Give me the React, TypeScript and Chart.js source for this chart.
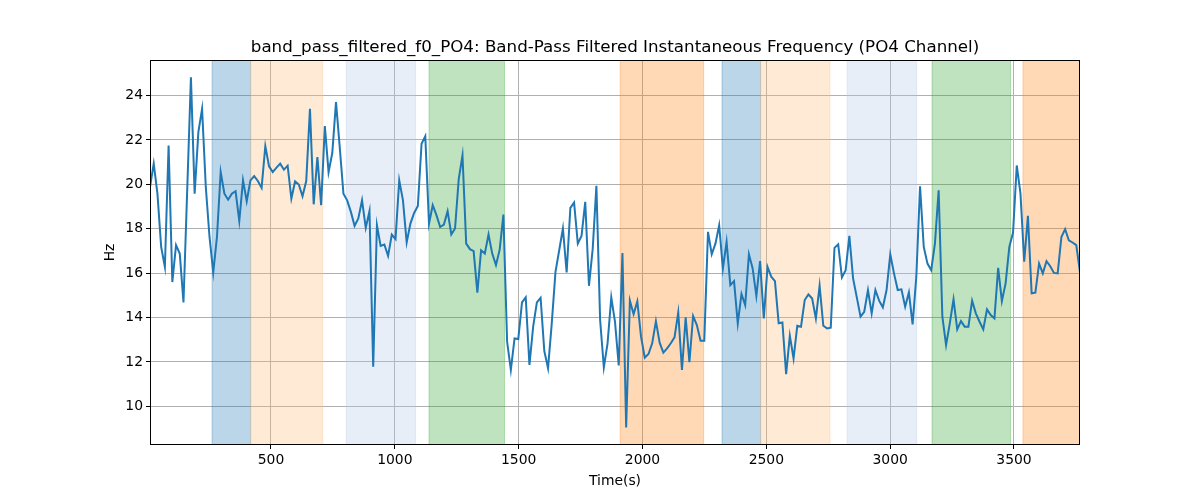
import React, { useEffect, useRef } from "react";
import { Chart, registerables } from "chart.js";

Chart.register(...registerables);

const TITLE = "band_pass_filtered_f0_PO4: Band-Pass Filtered Instantaneous Frequency (PO4 Channel)";
const X_LABEL = "Time(s)";
const Y_LABEL = "Hz";

// sampling grid of the time axis (seconds)
const T_START = 11.5;
const T_STEP = 15.02;

// instantaneous frequency values (Hz), one per sample
const freqHz = [
  19.88, 20.93, 19.58, 17.18, 16.28, 21.75, 15.6, 17.26, 16.88, 14.68,
  19.73, 24.82, 19.58, 22.35, 23.4, 19.88, 17.63, 16.03, 17.63, 20.55,
  19.58, 19.31, 19.58, 19.69, 18.35, 20.18, 19.24, 20.18, 20.37, 20.15,
  19.84, 21.72, 20.81, 20.55, 20.75, 20.93, 20.66, 20.84, 19.36, 20.13,
  19.99, 19.46, 20.15,
  23.4, 19.1, 21.23, 19.06, 22.62, 20.55, 21.41, 23.7, 21.68, 19.58,
  19.28, 18.76, 18.13, 18.46, 19.28, 18.04, 18.8, 11.79, 18.16, 17.23,
  17.29, 16.78, 17.74, 17.53, 20.18, 19.28, 17.38, 18.23, 18.71, 19.03,
  21.83, 22.17, 18.23, 19.06, 18.61, 18.08, 18.19, 18.79, 17.74, 18.01,
  20.25, 21.3,
  17.33, 17.08, 16.99, 15.12, 17.03, 16.88, 17.74, 16.88, 16.36, 17.06,
  18.64, 12.91, 11.64, 13.06, 13.03, 14.68, 14.91, 11.87, 13.59, 14.68,
  14.89, 12.49, 11.72, 13.74, 16.06, 17.03, 18.01, 16.03, 18.94, 19.18,
  17.33, 17.68, 19.21, 15.43, 17.08, 19.93, 13.89, 11.76, 12.84, 14.91,
  13.81,
  11.84, 16.91, 9.05, 14.76, 14.16, 14.73, 13.14, 12.19, 12.36, 12.84,
  13.84, 12.87, 12.42, 12.61, 12.84, 13.11, 14.23, 11.64, 14.01, 11.99,
  14.07, 13.66, 12.96, 12.96, 17.86, 16.85, 17.33, 18.16, 16.21, 17.41,
  15.46, 15.64, 13.74, 15.06, 14.56, 16.85, 16.21, 14.97, 16.54, 13.96,
  16.28, 15.84, 15.64, 13.74, 13.78, 11.45, 13.18, 12.16, 13.63, 13.59,
  14.79, 15.04, 14.86, 13.96, 15.43, 13.63, 13.51, 13.54, 17.14, 17.3,
  15.81, 16.13, 17.68, 15.76, 14.91, 14.04, 14.26, 15.24, 14.19, 15.24,
  14.76, 14.46, 15.24, 16.85, 15.99, 15.24, 15.27, 14.49, 15.13, 13.69,
  15.84, 19.91, 17.18, 16.43,
  16.13, 17.33, 19.73, 14.04, 12.76, 13.74, 14.82, 13.47, 13.84, 13.59,
  13.59, 14.76, 14.19, 13.81, 13.47, 14.37, 14.11, 13.96, 16.24, 14.74,
  15.54, 17.18, 17.83, 20.85, 19.58, 16.52, 18.58, 15.09, 15.12, 16.43,
  15.99, 16.54, 16.31, 16.01, 15.99, 17.63, 17.98, 17.48, 17.38, 17.26,
  16.03,
];

// shaded intervals (seconds)
const spanStarts = [262, 418, 804, 1138, 1910, 2321, 2477, 2826, 3169, 3536];
const spanEnds = [418, 709, 1084, 1443, 2247, 2477, 2757, 3107, 3486, 3800];
const spanColors = [
  "rgba(31,119,180,0.3)",
  "rgba(255,187,120,0.3)",
  "rgba(174,199,232,0.3)",
  "rgba(44,160,44,0.3)",
  "rgba(255,127,14,0.3)",
  "rgba(31,119,180,0.3)",
  "rgba(255,187,120,0.3)",
  "rgba(174,199,232,0.3)",
  "rgba(44,160,44,0.3)",
  "rgba(255,127,14,0.3)",
];

const xTicks = [500, 1000, 1500, 2000, 2500, 3000, 3500];
const yTicks = [10, 12, 14, 16, 18, 20, 22, 24];

const X_MIN = 11.5;
const X_MAX = 3766.5;
const Y_MIN = 8.26;
const Y_MAX = 25.6;

const FONT = "'DejaVu Sans', sans-serif";

const spanPlugin = {
  id: "spans",
  beforeDatasetsDraw(chart: any) {
    const { ctx, chartArea } = chart;
    const xs = chart.scales.x;
    ctx.save();
    ctx.beginPath();
    ctx.rect(chartArea.left, chartArea.top, chartArea.right - chartArea.left, chartArea.bottom - chartArea.top);
    ctx.clip();
    for (let i = 0; i < spanStarts.length; i++) {
      const a = xs.getPixelForValue(spanStarts[i]);
      const b = xs.getPixelForValue(spanEnds[i]);
      ctx.fillStyle = spanColors[i];
      ctx.fillRect(a, chartArea.top, b - a, chartArea.bottom - chartArea.top);
      ctx.strokeStyle = spanColors[i];
      ctx.lineWidth = 1;
      ctx.strokeRect(a, chartArea.top, b - a, chartArea.bottom - chartArea.top);
    }
    ctx.restore();
  },
};

const framePlugin = {
  id: "frame",
  afterDraw(chart: any) {
    const { ctx, chartArea } = chart;
    ctx.save();
    ctx.strokeStyle = "#000";
    ctx.lineWidth = 1;
    ctx.strokeRect(
      Math.round(chartArea.left) + 0.5,
      Math.round(chartArea.top) + 0.5,
      Math.round(chartArea.right - chartArea.left) - 1,
      Math.round(chartArea.bottom - chartArea.top) - 1
    );
    ctx.fillStyle = "#000";
    ctx.textAlign = "center";
    ctx.font = `16.7px ${FONT}`;
    ctx.textBaseline = "alphabetic";
    ctx.fillText(TITLE, (chartArea.left + chartArea.right) / 2, 52);
    ctx.font = `13.9px ${FONT}`;
    ctx.textBaseline = "middle";
    ctx.fillText(X_LABEL, (chartArea.left + chartArea.right) / 2, 481);
    ctx.translate(110, (chartArea.top + chartArea.bottom) / 2);
    ctx.rotate(-Math.PI / 2);
    ctx.fillText(Y_LABEL, 0, 0);
    ctx.restore();
  },
};

export default function App() {
  const ref = useRef<HTMLCanvasElement>(null);
  useEffect(() => {
    document.body.style.margin = "0";
    const points = freqHz.map((v, i) => ({ x: T_START + i * T_STEP, y: v }));
    const chart = new Chart(ref.current as HTMLCanvasElement, {
      type: "line",
      data: {
        datasets: [
          {
            data: points,
            borderColor: "#1f77b4",
            backgroundColor: "#1f77b4",
            borderWidth: 2,
            pointRadius: 0,
            tension: 0,
            fill: false,
          },
        ],
      },
      options: {
        responsive: false,
        animation: false,
        devicePixelRatio: 1,
        layout: { padding: { top: 60, right: 120, left: 0, bottom: 0 } },
        plugins: {
          legend: { display: false },
          tooltip: { enabled: false },
          title: { display: false },
        },
        scales: {
          x: {
            type: "linear",
            min: X_MIN,
            max: X_MAX,
            afterBuildTicks: (s: any) => {
              s.ticks = xTicks.map((v) => ({ value: v }));
            },
            afterFit: (s: any) => {
              s.height = 55;
            },
            grid: {
              color: "#b0b0b0",
              lineWidth: 1,
              tickColor: "#000",
              tickLength: 4,
              drawTicks: true,
            },
            border: { display: false },
            ticks: {
              font: { family: FONT, size: 13.9 },
              color: "#000",
              padding: 3,
              maxRotation: 0,
              autoSkip: false,
              callback: (v: any) => String(v),
            },
          },
          y: {
            type: "linear",
            min: Y_MIN,
            max: Y_MAX,
            afterBuildTicks: (s: any) => {
              s.ticks = yTicks.map((v) => ({ value: v }));
            },
            afterFit: (s: any) => {
              s.width = 150;
            },
            grid: {
              color: "#b0b0b0",
              lineWidth: 1,
              tickColor: "#000",
              tickLength: 4,
              drawTicks: true,
            },
            border: { display: false },
            ticks: {
              font: { family: FONT, size: 13.9 },
              color: "#000",
              padding: 3,
              autoSkip: false,
              callback: (v: any) => String(v),
            },
          },
        },
      },
      plugins: [spanPlugin, framePlugin],
    } as any);
    return () => chart.destroy();
  }, []);
  return <canvas ref={ref} width={1200} height={500} style={{ display: "block" }} />;
}
